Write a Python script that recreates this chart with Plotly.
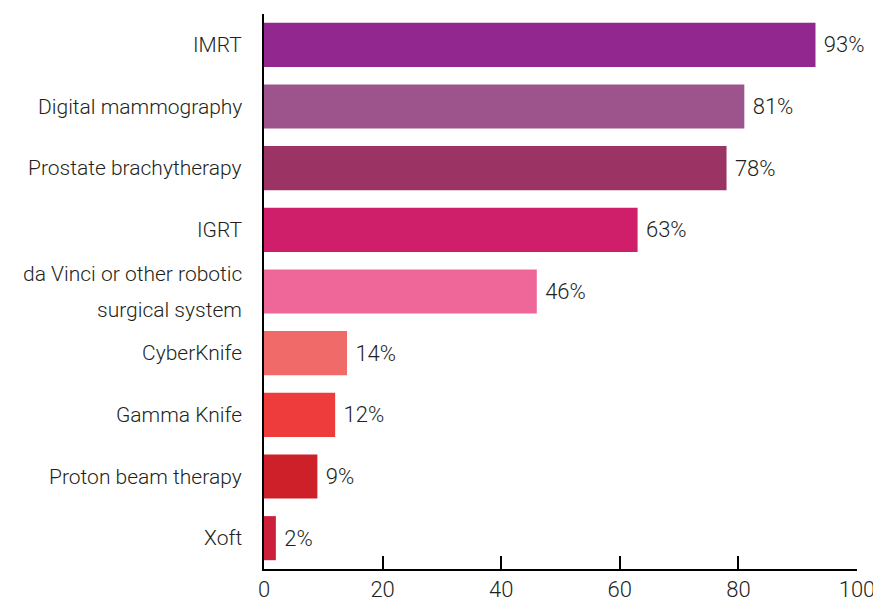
import plotly.graph_objects as go

# ------------------------------------------------------------------ #
# Data
# ------------------------------------------------------------------ #
CATEGORIES = [
    "IMRT",
    "Digital mammography",
    "Prostate brachytherapy",
    "IGRT",
    "da Vinci or other robotic<br>surgical system",
    "CyberKnife",
    "Gamma Knife",
    "Proton beam therapy",
    "Xoft",
]
VALUES = [93, 81, 78, 63, 46, 14, 12, 9, 2]
X_TICKS = [0, 20, 40, 60, 80, 100]

COLORS = [
    "#92278F", "#9D548D", "#9B3465", "#CF1E6A", "#EF6699",
    "#F06A6A", "#EE3B3B", "#CE2029", "#CC1F3A",
]

TEXT = "#231F20"
FONT = dict(family="Roboto", size=21, color=TEXT, weight=300)

# ------------------------------------------------------------------ #
# Figure (page body has an 8px margin, so the figure is 8px smaller)
# ------------------------------------------------------------------ #
fig = go.Figure(go.Bar(
    x=VALUES, y=CATEGORIES, orientation="h",
    marker=dict(color=COLORS, line=dict(width=0)),
    text=[f" {v}%" for v in VALUES], textposition="outside",
    textfont=dict(FONT, size=22), cliponaxis=False, hoverinfo="skip",
))

# category labels as annotations so the two-line label gets wide spacing
LINE_GAP = 36
for cat in CATEGORIES:
    lines = cat.split("<br>")
    n = len(lines)
    for i, line in enumerate(lines):
        fig.add_annotation(
            x=0, xref="paper", y=cat, yref="y", text=line, showarrow=False,
            xanchor="right", yanchor="middle", xshift=-20,
            yshift=((n - 1) / 2 - i) * LINE_GAP, font=FONT,
        )

fig.update_layout(
    width=873, height=592,
    margin=dict(l=256, r=24, t=6, b=31, autoexpand=False),
    paper_bgcolor="white", plot_bgcolor="white",
    showlegend=False, bargap=0.285,
    xaxis=dict(
        range=[0, 100], tickvals=X_TICKS, showgrid=False, zeroline=False,
        showline=True, linecolor="black", linewidth=2, automargin=False,
        ticks="inside", ticklen=13, tickwidth=2, tickcolor="black",
        tickfont=dict(family="Roboto", size=22, color=TEXT, weight=300),
    ),
    yaxis=dict(
        autorange="reversed", showgrid=False, zeroline=False,
        showline=True, linecolor="black", linewidth=2, automargin=False,
        showticklabels=False, ticks="",
    ),
)

fig.write_html("out.html")
